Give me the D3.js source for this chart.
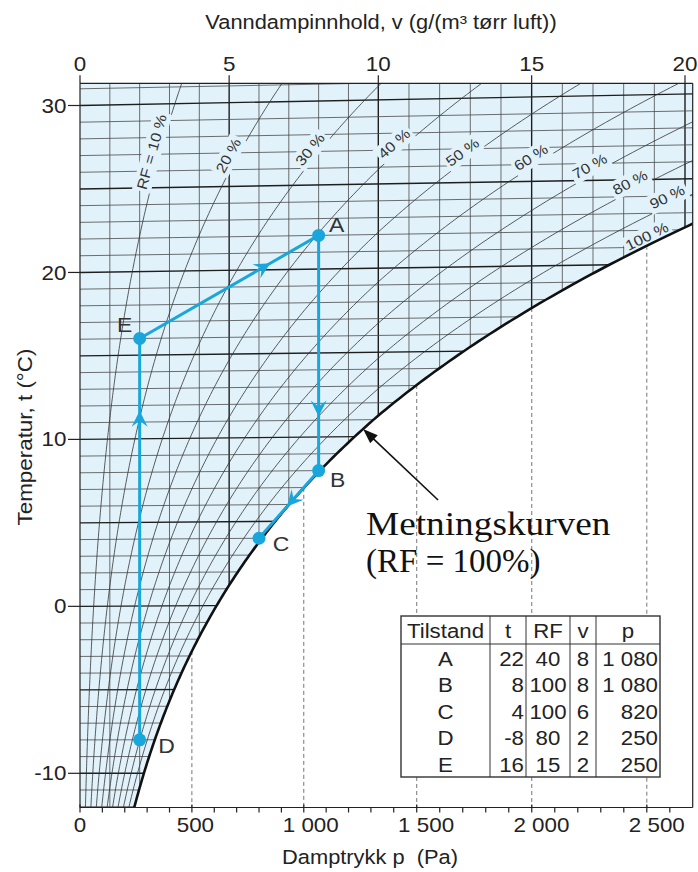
<!DOCTYPE html>
<html><head><meta charset="utf-8">
<script src="https://cdn.jsdelivr.net/npm/d3@7"></script>
<style>
html,body{margin:0;padding:0;background:#fff;}
svg{display:block;}
text{white-space:pre;}
</style></head>
<body><svg id="chart" width="698" height="872"></svg>
<script>
// ---- data ----
const states   = ["A", "B", "C", "D", "E"];
const stateT   = [22, 8, 4, -8, 16];          // °C
const stateRF  = [40, 100, 100, 80, 15];      // %
const stateV   = [8, 8, 6, 2, 2];             // g/m³
const stateP   = [1080, 1080, 820, 250, 250]; // Pa
const stateP_text = ["1 080", "1 080", "820", "250", "250"];
const processOrder = ["D", "E", "A", "B", "C"];

const rfLevels = [10, 20, 30, 40, 50, 60, 70, 80, 90, 100];
const rfText   = ["RF = 10 %", "20 %", "30 %", "40 %", "50 %", "60 %", "70 %", "80 %", "90 %", "100 %"];

const tTicks  = [-10, 0, 10, 20, 30];
const vTicks  = [0, 5, 10, 15, 20];
const pTicks  = [0, 500, 1000, 1500, 2000, 2500];
const pTickText = ["0", "500", "1 000", "1 500", "2 000", "2 500"];
const tableHead = ["Tilstand", "t", "RF", "v", "p"];

// ---- layout ----
const X0 = 80, X1 = 692.7, Y0 = 83.3, Y1 = 807.5;
const FONT = "'Liberation Sans', Arial, Helvetica, sans-serif";
const SERIF = "'Liberation Serif', 'Times New Roman', serif";
const SX = 1.12;               // wide setting of the lettering
const INK = "#222";
const REGION = "#e2f2fa";
const CYAN = "#19a6da";

const yScale = d3.scaleLinear().domain([-10, 30]).range([773.3, 105.5]);
const vScale = d3.scaleLinear().domain([0, 10, 20]).range([X0, 378.3, 685]);
const PA_PER_GM3 = 133.3;
const xOfP = p => vScale(p / PA_PER_GM3);
const pLabelScale = d3.scaleLinear().domain([0, 2500]).range([X0, X0 + 576.8]);

// isotherms of the chart are slightly sheared, steeper at higher temperature
function yAt(t, x) { return yScale(t) - (0.0055 + 0.00045 * t) * (x - X0); }
function psat(t) { return 610.5 * Math.exp(17.27 * t / (237.3 + t)); }
function tsat(p) { const L = Math.log(p / 610.5); return 237.3 * L / (17.27 - L); }
function ptP(p, t) { const x = xOfP(p); return [x, yAt(t, x)]; }
function ptV(v, t) { const x = vScale(v); return [x, yAt(t, x)]; }
function rfCurve(rf, t0, t1) {
  return d3.range(t0, t1 + 1e-9, 0.2).map(t => ptP(rf / 100 * psat(t), t));
}

const svg = d3.select("#chart");
const line = d3.line();

function putText(parent, x, y, str, o = {}) {
  const g = parent.append("g")
    .attr("transform", `translate(${x},${y}) rotate(${o.rotate || 0}) scale(${o.sx ?? SX},1)`);
  const t = g.append("text")
    .attr("x", 0).attr("y", o.dy || 0)
    .attr("text-anchor", o.anchor || "middle")
    .attr("dominant-baseline", o.baseline || "auto")
    .attr("font-family", o.family || FONT)
    .attr("font-size", o.size || 19.5)
    .attr("fill", o.fill || INK)
    .text(str);
  return { g, t };
}

svg.append("rect").attr("width", 698).attr("height", 872).attr("fill", "#fff");

// ---- clip paths ----
const defs = svg.append("defs");
defs.append("clipPath").attr("id", "plotClip")
  .append("rect").attr("x", X0).attr("y", Y0).attr("width", X1 - X0).attr("height", Y1 - Y0);
const satPts = rfCurve(100, -13, 24.6);
const regionPts = [[X0 - 2, Y1 + 40], ...satPts, [X1 + 120, Y0 - 60], [X0 - 2, Y0 - 60]];
defs.append("clipPath").attr("id", "regionClip")
  .append("path").attr("d", line(regionPts) + "Z");

const plot = svg.append("g").attr("clip-path", "url(#plotClip)");
plot.append("path").attr("d", line(regionPts) + "Z").attr("fill", REGION);

// ---- grid inside the unsaturated region ----
const grid = plot.append("g").attr("clip-path", "url(#regionClip)");
d3.range(1, 21).forEach(v => {
  const major = v % 5 === 0;
  grid.append("line")
    .attr("x1", vScale(v)).attr("x2", vScale(v)).attr("y1", Y0).attr("y2", Y1)
    .attr("stroke", major ? "#1e1e1e" : "#4a4a4a").attr("stroke-width", major ? 1.4 : 0.8);
});
d3.range(-12, 32).forEach(t => {
  const major = t % 5 === 0;
  grid.append("line")
    .attr("x1", X0).attr("y1", yAt(t, X0)).attr("x2", X1 + 10).attr("y2", yAt(t, X1 + 10))
    .attr("stroke", major ? "#1e1e1e" : "#4a4a4a").attr("stroke-width", major ? 1.4 : 0.8);
});
rfLevels.filter(rf => rf < 100).forEach(rf => {
  grid.append("path").attr("d", line(rfCurve(rf, -13, 33)))
    .attr("fill", "none").attr("stroke", "#333").attr("stroke-width", 0.8);
});

// ---- dashed pressure lines below the saturation curve ----
pTicks.filter(p => p > 0).forEach(p => {
  const [x, y] = ptP(p, tsat(p));
  plot.append("line").attr("x1", x).attr("x2", x).attr("y1", y).attr("y2", Y1)
    .attr("stroke", "#666").attr("stroke-width", 0.9).attr("stroke-dasharray", "4,3");
});

// ---- RF labels along their curves ----
const rfLabelAt = [27.0, 26.6, 26.8, 27.0, 26.4, 26.0, 25.4, 24.4, 23.5, 21.2];
rfLevels.forEach((rf, i) => {
  const t = rfLabelAt[i];
  const [x, y] = ptP(rf / 100 * psat(t), t);
  const a = ptP(rf / 100 * psat(t - 0.3), t - 0.3), b = ptP(rf / 100 * psat(t + 0.3), t + 0.3);
  const ang = Math.atan2(b[1] - a[1], b[0] - a[0]) * 180 / Math.PI;
  const { g, t: tx } = putText(plot, x, y, rfText[i], { rotate: ang, size: 14.5, baseline: "central", dy: -8.5, fill: "#333" });
  const bb = tx.node().getBBox();
  g.insert("rect", "text").attr("x", bb.x - 2).attr("y", bb.y - 1).attr("width", bb.width + 4).attr("height", bb.height + 3)
    .attr("fill", REGION);
});

// saturation curve
plot.append("path").attr("d", line(satPts)).attr("fill", "none")
  .attr("stroke", "#111").attr("stroke-width", 2.6);

// ---- frame ----
const frame = svg.append("g").attr("stroke", "#222").attr("stroke-width", 1.2);
frame.append("line").attr("x1", X0).attr("x2", X0).attr("y1", Y0).attr("y2", Y1);
frame.append("line").attr("x1", X1).attr("x2", X1).attr("y1", Y0).attr("y2", Y1);
frame.append("line").attr("x1", X0).attr("x2", X1).attr("y1", Y0).attr("y2", Y0);
frame.append("line").attr("x1", X0).attr("x2", X1).attr("y1", Y1).attr("y2", Y1);

// left axis: temperature
tTicks.forEach(t => {
  frame.append("line").attr("x1", X0 - 12).attr("x2", X0).attr("y1", yScale(t)).attr("y2", yScale(t));
  putText(svg, 66.5, yScale(t), String(t), { anchor: "end", baseline: "central", size: 20 });
});
// top axis: water vapour content
vTicks.forEach(v => {
  frame.append("line").attr("x1", vScale(v)).attr("x2", vScale(v)).attr("y1", Y0 - 8).attr("y2", Y0);
  putText(svg, vScale(v), 71, String(v), { size: 20 });
});
// bottom axis: vapour pressure
d3.range(0, 2601, 100).forEach(p => {
  const major = p % 500 === 0;
  frame.append("line").attr("x1", xOfP(p)).attr("x2", xOfP(p))
    .attr("y1", major ? Y1 - 3 : Y1).attr("y2", Y1 + 5);
});
pTicks.forEach((p, i) => putText(svg, pLabelScale(p), 832, pTickText[i], { size: 20 }));

putText(svg, 381, 29, "Vanndampinnhold, v (g/(m³ tørr luft))");
putText(svg, 370, 864, "Damptrykk p  (Pa)");
putText(svg, 25, 437, "Temperatur, t (°C)", { rotate: -90, baseline: "central", size: 20 });

// ---- table ----
const tb = svg.append("g");
const tX = 401, tY = 616, colW = [89, 36, 44, 26, 64], headH = 28, rowH = 26.6;
const colX = [tX]; colW.forEach(w => colX.push(colX[colX.length - 1] + w));
const tW = colX[5] - tX, tH = headH + rowH * states.length;
tb.append("rect").attr("x", tX).attr("y", tY).attr("width", tW).attr("height", tH)
  .attr("fill", "#fff").attr("stroke", "#333").attr("stroke-width", 1.4);
colX.slice(1, 5).forEach(x => tb.append("line").attr("x1", x).attr("x2", x).attr("y1", tY).attr("y2", tY + tH)
  .attr("stroke", "#333").attr("stroke-width", 1));
tb.append("line").attr("x1", tX).attr("x2", tX + tW).attr("y1", tY + headH).attr("y2", tY + headH)
  .attr("stroke", "#333").attr("stroke-width", 1.2);
const cellFont = { size: 21, sx: 1.06, baseline: "central" };
tableHead.forEach((h, j) => putText(tb, (colX[j] + colX[j + 1]) / 2, tY + headH / 2 + 1, h, cellFont));
states.forEach((s, i) => {
  const cy = tY + headH + rowH * (i + 0.5) + 1;
  putText(tb, (colX[0] + colX[1]) / 2, cy, s, cellFont);
  putText(tb, colX[2] - 2, cy, String(stateT[i]), { ...cellFont, anchor: "end" });
  putText(tb, (colX[2] + colX[3]) / 2, cy, String(stateRF[i]), cellFont);
  putText(tb, (colX[3] + colX[4]) / 2, cy, String(stateV[i]), cellFont);
  putText(tb, colX[5] - 2, cy, stateP_text[i], { ...cellFont, anchor: "end" });
});

// ---- annotation of the saturation curve ----
const tipT = 10.45;
const tip = ptP(psat(tipT), tipT);
const tail = [tip[0] + 75, tip[1] + 71];
const ang = Math.atan2(tip[1] - tail[1], tip[0] - tail[0]);
svg.append("line").attr("x1", tail[0]).attr("y1", tail[1])
  .attr("x2", tip[0] - 10 * Math.cos(ang)).attr("y2", tip[1] - 10 * Math.sin(ang))
  .attr("stroke", "#111").attr("stroke-width", 1.6);
svg.append("path").attr("d", "M0,0 L-15,-5.5 L-15,5.5 Z").attr("fill", "#111")
  .attr("transform", `translate(${tip[0]},${tip[1]}) rotate(${ang * 180 / Math.PI})`);
putText(svg, tail[0] - 72, 535, "Metningskurven", { anchor: "start", family: SERIF, size: 33, sx: 1.13, fill: "#111" });
putText(svg, tail[0] - 72, 572, "(RF = 100%)", { anchor: "start", family: SERIF, size: 33, sx: 1.0, fill: "#111" });

// ---- process path D → E → A → B → C ----
const P = {};
states.forEach((s, i) => P[s] = ptV(stateV[i], stateT[i]));
const procPts = processOrder.map(s => P[s]);
const proc = svg.append("g");
proc.append("path").attr("d", line(procPts)).attr("fill", "none")
  .attr("stroke", CYAN).attr("stroke-width", 3).attr("stroke-linejoin", "round");
const arrowAt = [0.82, 0.73, 0.77, 0.53];
arrowAt.forEach((f, i) => {
  const a = procPts[i], b = procPts[i + 1];
  const x = a[0] + (b[0] - a[0]) * f, y = a[1] + (b[1] - a[1]) * f;
  const r = Math.atan2(b[1] - a[1], b[0] - a[0]) * 180 / Math.PI;
  proc.append("path").attr("d", "M0,0 L-16,-8 L-10,0 L-16,8 Z").attr("fill", CYAN)
    .attr("transform", `translate(${x},${y}) rotate(${r})`);
});
states.forEach(s => proc.append("circle").attr("cx", P[s][0]).attr("cy", P[s][1]).attr("r", 6.5).attr("fill", CYAN));
const stateLabelOffset = { A: [18, -10], B: [19, 9], C: [22, 6], D: [27, 6], E: [-15, -14] };
states.forEach(s => putText(proc, P[s][0] + stateLabelOffset[s][0], P[s][1] + stateLabelOffset[s][1], s,
  { baseline: "central", size: 20.5, fill: "#333" }));
</script>
</body></html>
